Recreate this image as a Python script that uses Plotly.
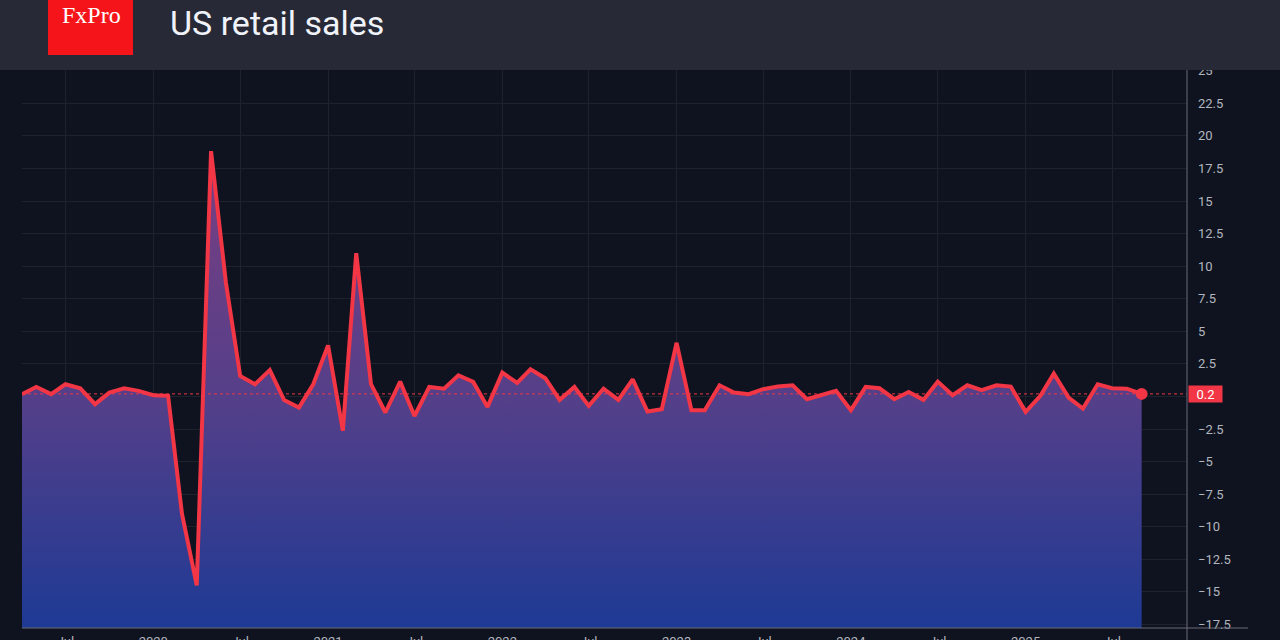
import plotly.graph_objects as go
import pandas as pd

# ---- data (monthly % change) ----
months = pd.date_range("2019-04-01", "2025-09-01", freq="MS")
values = [
    # 2019 Apr-Dec
    0.18, 0.73, 0.18, 0.94, 0.63, -0.59, 0.30, 0.63, 0.43,
    # 2020
    0.10, 0.05, -9.0, -14.5, 18.83, 8.75, 1.57, 0.94, 2.03, -0.28, -0.85, 0.94,
    # 2021
    3.92, -2.63, 11.0, 0.94, -1.23, 1.14, -1.50, 0.73, 0.60, 1.63, 1.12, -0.80,
    # 2022
    1.83, 1.04, 2.09, 1.40, -0.26, 0.73, -0.72, 0.60, -0.26, 1.32, -1.15, -0.97,
    # 2023
    4.12, -1.05, -1.05, 0.86, 0.30, 0.18, 0.56, 0.76, 0.86, -0.21, 0.10, 0.43,
    # 2024
    -1.05, 0.73, 0.63, -0.21, 0.35, -0.26, 1.14, 0.10, 0.86, 0.48, 0.86, 0.76,
    # 2025 Jan-Sep
    -1.18, 0.05, 1.75, -0.08, -0.92, 0.94, 0.63, 0.60, 0.20,
]
last_label = "0.2"

x_tick_dates = ["2019-07-01", "2020-01-01", "2020-07-01", "2021-01-01", "2021-07-01",
                "2022-01-01", "2022-07-01", "2023-01-01", "2023-07-01", "2024-01-01",
                "2024-07-01", "2025-01-01", "2025-07-01"]
x_tick_text = ["Jul", "2020", "Jul", "2021", "Jul", "2022", "Jul", "2023", "Jul",
               "2024", "Jul", "2025", "Jul"]

y_tick_vals = [-17.5, -15, -12.5, -10, -7.5, -5, -2.5, 0, 2.5, 5, 7.5, 10, 12.5, 15,
               17.5, 20, 22.5, 25]
y_tick_text = ["−17.5", "−15", "−12.5", "−10", "−7.5", "−5", "−2.5", "", "2.5", "5",
               "7.5", "10", "12.5", "15", "17.5", "20", "22.5", "25"]

Y_MIN, Y_MAX = -17.77, 25.06
X_RANGE = ["2019-04-01", "2025-12-05"]

W, H = 1280, 640
HEADER = 70
PLOT_L, PLOT_R, PLOT_B = 22, 1187, 628

BG = "#0e131f"
HEADER_BG = "#272a36"
RED = "#f23645"
GRID = "#1e222b"
TXT = "#b2b5be"

fig = go.Figure()

# baseline for the area fill
fig.add_trace(go.Scatter(
    x=months, y=[Y_MIN] * len(months), mode="lines",
    line=dict(width=0, color="rgba(0,0,0,0)"), hoverinfo="skip", showlegend=False,
))
fig.add_trace(go.Scatter(
    x=months, y=values, mode="lines",
    line=dict(color=RED, width=4),
    fill="tonexty",
    fillgradient=dict(
        type="vertical", start=Y_MIN, stop=19,
        colorscale=[[0, "#1e3a94"], [0.48, "#553f89"], [1, "#7a3f82"]],
    ),
    showlegend=False,
))
# last point marker
fig.add_trace(go.Scatter(
    x=[months[-1]], y=[values[-1]], mode="markers",
    marker=dict(color=RED, size=12), showlegend=False,
))

fig.update_layout(
    width=W, height=H, autosize=False,
    margin=dict(l=0, r=0, t=0, b=0, autoexpand=False),
    paper_bgcolor=BG, plot_bgcolor=BG,
    xaxis=dict(
        domain=[PLOT_L / W, PLOT_R / W], range=X_RANGE, type="date",
        tickvals=x_tick_dates, ticktext=x_tick_text,
        showgrid=True, gridcolor=GRID, gridwidth=1,
        zeroline=False, showline=False, ticks="", automargin=False,
        tickfont=dict(family="Roboto", size=13, color=TXT),
        ticklabelstandoff=4,
    ),
    yaxis=dict(
        domain=[(H - PLOT_B) / H, (H - HEADER) / H], range=[Y_MIN, Y_MAX],
        side="right", tickvals=y_tick_vals, ticktext=y_tick_text,
        showgrid=True, gridcolor=GRID, gridwidth=1,
        zeroline=False, showline=False, ticks="", automargin=False,
        tickfont=dict(family="Roboto", size=13, color=TXT),
        ticklabelstandoff=10,
    ),
    shapes=[
        # header bar
        dict(type="rect", xref="paper", yref="paper", x0=0, x1=1,
             y0=(H - HEADER) / H, y1=1, fillcolor=HEADER_BG, line=dict(width=0),
             layer="above"),
        # logo box
        dict(type="rect", xref="paper", yref="paper", x0=48 / W, x1=133 / W,
             y0=(H - 55) / H, y1=1, fillcolor="#f5141a", line=dict(width=0),
             layer="above"),
        # price line
        dict(type="line", xref="x", yref="y", x0=X_RANGE[0], x1=X_RANGE[1],
             y0=values[-1], y1=values[-1], line=dict(color=RED, width=1, dash="dot")),
        # right axis line
        dict(type="line", xref="paper", yref="paper", x0=PLOT_R / W, x1=PLOT_R / W,
             y0=0, y1=(H - HEADER) / H, line=dict(color="#6a6d78", width=1),
             layer="above"),
        # bottom axis line
        dict(type="line", xref="paper", yref="paper", x0=PLOT_L / W, x1=1248 / W,
             y0=(H - PLOT_B) / H, y1=(H - PLOT_B) / H,
             line=dict(color="#6a6d78", width=1), layer="above"),
    ],
    annotations=[
        dict(text="FxPro", xref="paper", yref="paper", x=91 / W, y=(H - 15) / H,
             xanchor="center", yanchor="middle", showarrow=False,
             font=dict(family="Liberation Serif", size=24, color="white")),
        dict(text="US retail sales", xref="paper", yref="paper", x=168 / W,
             y=(H - 23) / H, xanchor="left", yanchor="middle", showarrow=False,
             font=dict(family="Roboto", size=34, color="#f0f3fa")),
        dict(text=last_label, xref="paper", yref="y", x=(PLOT_R + 1) / W,
             y=values[-1], xanchor="left", yanchor="middle", showarrow=False,
             bgcolor=RED, borderpad=2, width=29, height=12, align="center",
             font=dict(family="Roboto", size=13, color="white")),
    ],
)

fig.write_html(
    "out.html",
    config={"responsive": False, "displayModeBar": False},
    post_script=(
        "var gd=document.getElementById('{plot_id}');"
        "gd.style.position='fixed';gd.style.left='0px';gd.style.top='0px';"
        "document.body.style.margin='0';document.body.style.background='#0e131f';"
    ),
)
